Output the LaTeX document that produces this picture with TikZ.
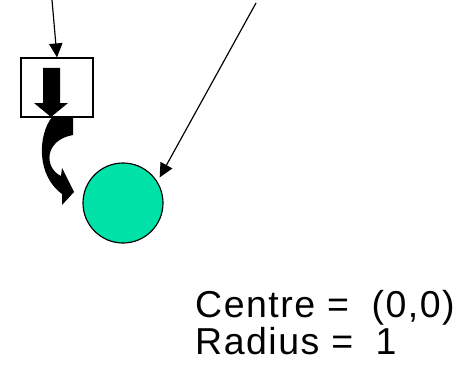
\documentclass[tikz,border=0pt]{standalone}
\usepackage{fontspec}
\setmainfont{Liberation Sans}
\newfontfamily\labelfont[LetterSpace=4]{Liberation Sans}
\usepackage{xcolor}
\usetikzlibrary{arrows.meta,positioning,calc}

\definecolor{discgreen}{RGB}{0,226,168}

\begin{document}
\begin{tikzpicture}[x=0.03cm,y=-0.03cm,
    link/.style={line width=1pt, -{Triangle[length=0.42cm,width=0.4cm]}},
    label/.style={font=\labelfont\fontsize{32}{34}\selectfont, anchor=base west,
      inner sep=0pt, text height=0.6cm, text depth=0.15cm}]
  \useasboundingbox (0,0) rectangle (476,366);

  \node[draw, line width=1pt, minimum width=2.16cm, minimum height=1.77cm,
        inner sep=0pt] (box) at (57,87.5) {};
  \node[draw, line width=1pt, circle, fill=discgreen, minimum size=2.4cm,
        inner sep=0pt] (circ) at (123,203) {};

  \coordinate (top1) at (52,0);
  \coordinate (top2) at (256,3);
  \draw[link] (top1) -- (box.north);
  \draw[link, shorten >=4pt] (top2) -- (circ.32);

  % block arrow inside the box
  \fill (43,68) -- (60,68) -- (60,103) -- (68,103) -- (51,117) -- (34,103)
    -- (43,103) -- cycle;
  % curved arrow towards the disc
  \fill (52,117) .. controls (38,135) and (36,175) .. (62,194) -- (62,205)
    -- (74,192) -- (62,168) -- (61,176) .. controls (44,168) and (44,140) .. (73,135)
    -- (73,117) -- cycle;

  \node[label] (centre) at (195,317) {Centre =\hspace{0.6em}(0,0)};
  \node[label] (radius) at (195,354) {Radius =\hspace{0.6em}1};
\end{tikzpicture}
\end{document}
